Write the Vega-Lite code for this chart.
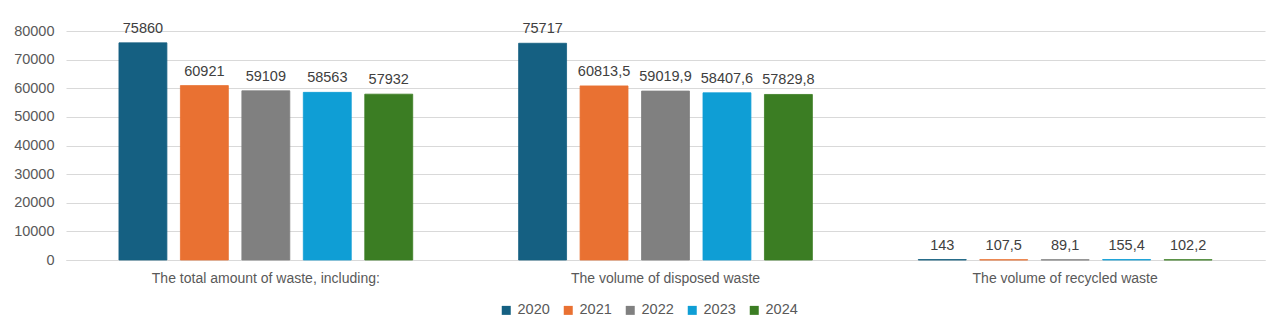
{
  "$schema": "https://vega.github.io/schema/vega-lite/v6.json",
  "width": 1199,
  "height": 229,
  "autosize": {"type": "none"},
  "padding": {"left": 66, "top": 31, "right": 15, "bottom": 76},
  "background": "white",
  "config": {
    "font": "Liberation Sans",
    "view": {"stroke": null},
    "axis": {"labelFont": "Liberation Sans", "labelColor": "#595959", "labelFontSize": 14}
  },
  "data": {
    "values": [
      {"category": "The total amount of waste, including:", "year": "2020", "value": 75860, "label": "75860"},
      {"category": "The total amount of waste, including:", "year": "2021", "value": 60921, "label": "60921"},
      {"category": "The total amount of waste, including:", "year": "2022", "value": 59109, "label": "59109"},
      {"category": "The total amount of waste, including:", "year": "2023", "value": 58563, "label": "58563"},
      {"category": "The total amount of waste, including:", "year": "2024", "value": 57932, "label": "57932"},
      {"category": "The volume of disposed waste", "year": "2020", "value": 75717, "label": "75717"},
      {"category": "The volume of disposed waste", "year": "2021", "value": 60813.5, "label": "60813,5"},
      {"category": "The volume of disposed waste", "year": "2022", "value": 59019.9, "label": "59019,9"},
      {"category": "The volume of disposed waste", "year": "2023", "value": 58407.6, "label": "58407,6"},
      {"category": "The volume of disposed waste", "year": "2024", "value": 57829.8, "label": "57829,8"},
      {"category": "The volume of recycled waste", "year": "2020", "value": 143, "label": "143"},
      {"category": "The volume of recycled waste", "year": "2021", "value": 107.5, "label": "107,5"},
      {"category": "The volume of recycled waste", "year": "2022", "value": 89.1, "label": "89,1"},
      {"category": "The volume of recycled waste", "year": "2023", "value": 155.4, "label": "155,4"},
      {"category": "The volume of recycled waste", "year": "2024", "value": 102.2, "label": "102,2"}
    ]
  },
  "encoding": {
    "x": {
      "field": "category", "type": "nominal", "sort": null,
      "scale": {"paddingInner": 0.265, "paddingOuter": 0.1325},
      "axis": {"title": null, "labelAngle": 0, "ticks": false, "domain": true, "domainColor": "#d9d9d9", "labelPadding": 11, "labelFontSize": 14, "labelLimit": 0}
    },
    "xOffset": {"field": "year", "type": "nominal", "scale": {"paddingInner": 0.22, "paddingOuter": 0}},
    "y": {
      "field": "value", "type": "quantitative",
      "scale": {"domain": [0, 80000], "nice": false},
      "axis": {"title": null, "values": [0,10000,20000,30000,40000,50000,60000,70000,80000], "format": "d", "domain": false, "ticks": false, "gridColor": "#d9d9d9", "labelPadding": 12, "labelOverlap": false, "labelFontSize": 14.5}
    }
  },
  "layer": [
    {
      "mark": {"type": "bar", "strokeWidth": 0.8},
      "encoding": {
        "color": {
          "field": "year", "type": "nominal",
          "scale": {"domain": ["2020","2021","2022","2023","2024"], "range": ["#156082","#E97132","#808080","#0F9ED5","#3B7D23"]},
          "legend": {
            "title": null, "orient": "none", "direction": "horizontal", "legendX": 433, "legendY": 272,
            "symbolType": "square", "symbolSize": 81, "symbolStrokeWidth": 0, "labelFontSize": 14.5, "labelColor": "#595959",
            "labelFont": "Liberation Sans", "columnPadding": 11, "labelOffset": 4
          }
        },
        "stroke": {
          "field": "year", "type": "nominal",
          "scale": {"domain": ["2020","2021","2022","2023","2024"], "range": ["#156082","#E97132","#808080","#0F9ED5","#3B7D23"]},
          "legend": null
        }
      }
    },
    {
      "mark": {"type": "text", "baseline": "bottom", "dy": -7, "fontSize": 14.5, "color": "#404040", "font": "Liberation Sans"},
      "encoding": {"text": {"field": "label"}}
    }
  ]
}
